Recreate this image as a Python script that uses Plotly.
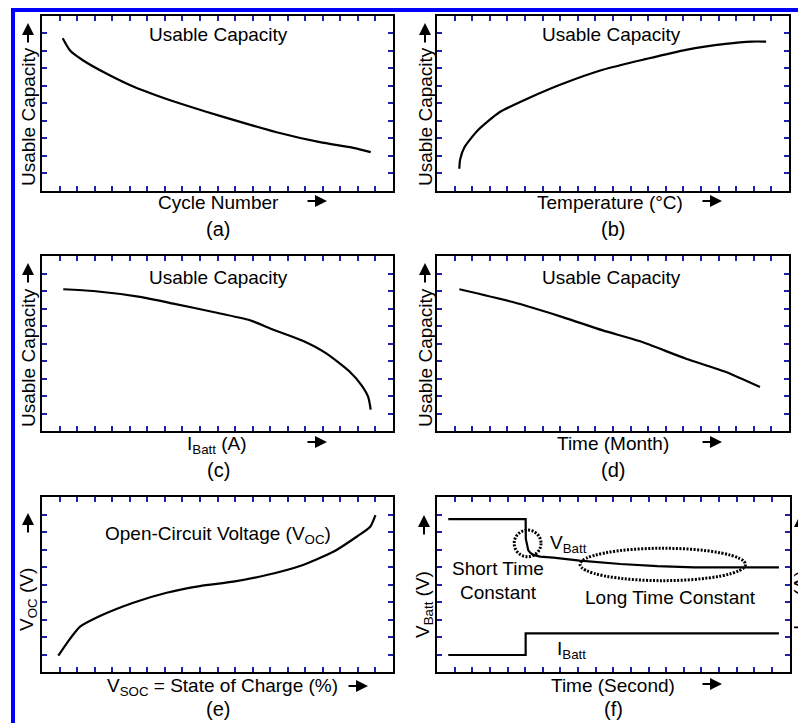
import plotly.graph_objects as go

# page body adds an 8px margin; figure sized to fit the 806x723 window
OFF = 8
W, H = 806 - OFF, 723 - OFF

# ---- data (x in 0..20 units, y in 0..10 units) ----
cycle_x = [1.18, 1.6, 2.35, 3.69, 5.2, 6.53, 8.05, 10.52, 13.37, 15.84, 17.74, 18.73]
cycle_y = [8.7, 8.0, 7.43, 6.67, 5.94, 5.43, 4.91, 4.15, 3.33, 2.76, 2.44, 2.19]

temp_x = [1.27, 1.31, 1.56, 2.31, 3.55, 5.25, 7.14, 9.42, 11.9, 14.15, 16.4, 17.9, 18.7]
temp_y = [1.24, 1.75, 2.47, 3.43, 4.47, 5.3, 6.1, 6.9, 7.52, 8.04, 8.38, 8.51, 8.51]

ibatt_x = [1.21, 2.92, 5.58, 7.48, 9.76, 11.85, 13.18, 14.89, 16.22, 17.55, 18.21, 18.59, 18.73]
ibatt_y = [8.1, 8.0, 7.66, 7.28, 6.8, 6.33, 5.79, 5.14, 4.42, 3.37, 2.61, 1.94, 1.22]

month_x = [1.27, 4.3, 7.14, 9.42, 11.5, 14.15, 16.42, 18.35]
month_y = [8.1, 7.37, 6.51, 5.75, 5.14, 4.13, 3.37, 2.51]

soc_x = [0.93, 1.41, 2.17, 3.3, 5.2, 7.1, 9.0, 10.9, 12.8, 14.7, 16.6, 17.93, 18.7, 19.0]
soc_y = [0.93, 1.64, 2.59, 3.2, 3.96, 4.53, 4.91, 5.16, 5.54, 6.06, 6.87, 7.73, 8.3, 8.97]

vbatt_x = [0.64, 5.03, 5.04, 5.1, 5.18, 5.3, 5.47, 5.85, 6.6, 8.1, 10.4, 12.5, 14.6, 19.4]
vbatt_y = [8.73, 8.73, 7.6, 7.2, 6.95, 6.8, 6.69, 6.59, 6.53, 6.36, 6.17, 6.05, 5.98, 5.98]

icur_x = [0.64, 5.03, 5.03, 19.4]
icur_y = [0.97, 0.97, 2.21, 2.21]

# ellipses (x0, y0, x1, y1) in panel-f data units
short_ellipse = [4.38, 6.59, 5.9, 8.11]
long_ellipse = [8.12, 5.22, 17.5, 7.07]

x_ticks = list(range(1, 20))
y_ticks = list(range(1, 10))

# ---- panel frames in reference pixels (left, right, top, bottom) ----
panels = [
    (42, 393, 15.5, 190.5),
    (437, 789, 15.5, 190.5),
    (42, 393, 256, 431),
    (437, 789, 256, 431),
    (42, 393, 497, 672),
    (437, 789.5, 497, 672),
]

FONT = "Liberation Sans, Arial, sans-serif"
TICKC = "#2020a8"
FS = 19


def px(x):
    return (x - OFF) / W


def py(y):
    return 1 - (y - OFF) / H


fig = go.Figure()

series = [(cycle_x, cycle_y), (temp_x, temp_y), (ibatt_x, ibatt_y),
          (month_x, month_y), (soc_x, soc_y)]

for i, (xs, ys) in enumerate(series):
    n = i + 1
    ax = "x" if n == 1 else f"x{n}"
    ay = "y" if n == 1 else f"y{n}"
    fig.add_trace(go.Scatter(x=xs, y=ys, mode="lines",
                             line=dict(color="black", width=2.2, shape="spline", smoothing=0.6),
                             xaxis=ax, yaxis=ay, showlegend=False, hoverinfo="skip"))
fig.add_trace(go.Scatter(x=vbatt_x, y=vbatt_y, mode="lines",
                         line=dict(color="black", width=2.2),
                         xaxis="x6", yaxis="y6", showlegend=False, hoverinfo="skip"))
fig.add_trace(go.Scatter(x=icur_x, y=icur_y, mode="lines",
                         line=dict(color="black", width=2.2),
                         xaxis="x6", yaxis="y6", showlegend=False, hoverinfo="skip"))

layout = dict(width=W, height=H, margin=dict(l=0, r=0, t=0, b=0),
              paper_bgcolor="white", plot_bgcolor="white", showlegend=False)

for i, (l, r, t, b) in enumerate(panels):
    n = i + 1
    sfx = "" if n == 1 else str(n)
    common = dict(showgrid=False, zeroline=False, showticklabels=False,
                  ticks="inside", ticklen=5, tickwidth=1.5, tickcolor=TICKC,
                  showline=True, linecolor="black", linewidth=2, mirror="ticks",
                  fixedrange=True)
    layout["xaxis" + sfx] = dict(domain=[px(l), px(r)], range=[0, 20], tickvals=x_ticks,
                                 anchor="y" + sfx, **common)
    layout["yaxis" + sfx] = dict(domain=[py(b), py(t)], range=[0, 10], tickvals=y_ticks,
                                 anchor="x" + sfx, **common)

fig.update_layout(**layout)


def label(text, x, y, size=FS, angle=0, xanchor="center"):
    fig.add_annotation(text=text, x=px(x), y=py(y), xref="paper", yref="paper",
                       showarrow=False, textangle=angle, xanchor=xanchor, yanchor="middle",
                       font=dict(family=FONT, size=size, color="black"))


def arrow(x0, y0, x1, y1):
    # tail (x0, y0) -> head (x1, y1), reference pixels
    fig.add_annotation(text="", x=px(x1), y=py(y1), xref="paper", yref="paper",
                       ax=x0 - x1, ay=y0 - y1, axref="pixel", ayref="pixel",
                       showarrow=True, arrowhead=2, arrowsize=1.2, arrowwidth=2,
                       arrowcolor="black", standoff=0, startstandoff=0)


# in-panel titles
label("Usable Capacity", 218, 35)
label("Usable Capacity", 611, 35)
label("Usable Capacity", 218, 277)
label("Usable Capacity", 611, 277)
label("Open-Circuit Voltage (V<sub>OC</sub>)", 218, 535)

# y-axis titles
label("Usable Capacity", 28, 117, angle=-90)
arrow(28, 44, 28, 23)
label("Usable Capacity", 425, 117, angle=-90)
arrow(425, 44, 425, 23)
label("Usable Capacity", 28, 358, angle=-90)
arrow(28, 284, 28, 263)
label("Usable Capacity", 425, 358, angle=-90)
arrow(425, 284, 425, 263)
arrow(28, 534, 28, 513)
label("V<sub>OC</sub> (V)", 28, 600, angle=-90)
arrow(424, 536, 424, 515)
label("V<sub>Batt</sub> (V)", 424, 605, angle=-90)
arrow(800, 536, 800, 515)
label("I<sub>Batt</sub> (A)", 802, 600, angle=-90)

# x-axis titles
label("Cycle Number", 218, 202)
arrow(306, 201, 327, 201)
label("(a)", 218, 229, size=20)
label("Temperature (°C)", 610, 202)
arrow(701, 201, 722, 201)
label("(b)", 613, 229, size=20)
label("I<sub>Batt</sub> (A)", 217, 445)
arrow(306, 442, 327, 442)
label("(c)", 218, 470, size=20)
label("Time (Month)", 613, 443)
arrow(701, 442, 722, 442)
label("(d)", 613, 470, size=20)
label("V<sub>SOC</sub> = State of Charge (%)", 222, 687)
arrow(347, 686, 368, 686)
label("(e)", 218, 709, size=20)
label("Time (Second)", 613, 685)
arrow(701, 684, 722, 684)
label("(f)", 613, 709, size=20)

# panel f texts
label("V<sub>Batt</sub>", 568, 544)
label("Short Time", 498, 568)
label("Constant", 498, 592)
label("Long Time Constant", 670, 597)
label("I<sub>Batt</sub>", 571, 650)

# ellipses in panel f (densely dotted)
for e in (short_ellipse, long_ellipse):
    fig.add_shape(type="circle", xref="x6", yref="y6", x0=e[0], y0=e[1], x1=e[2], y1=e[3],
                  line=dict(color="black", width=3, dash="2px,1.5px"))

# blue frame (left and top)
fig.add_shape(type="line", xref="paper", yref="paper", x0=px(13), y0=0, x1=px(13), y1=py(8),
              line=dict(color="#0000ff", width=4))
fig.add_shape(type="line", xref="paper", yref="paper", x0=px(11), y0=py(10), x1=1, y1=py(10),
              line=dict(color="#0000ff", width=4))

fig.write_html("out.html")
